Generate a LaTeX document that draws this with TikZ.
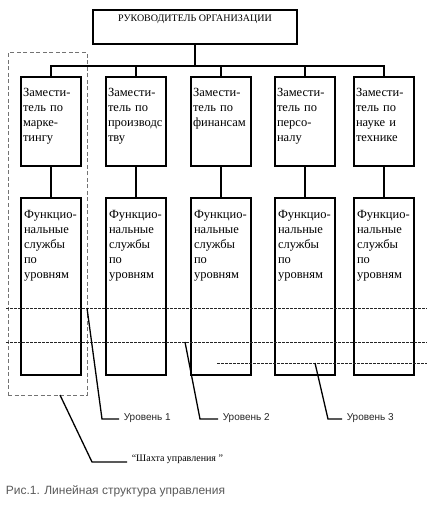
\documentclass[tikz,border=0pt]{standalone}
\usepackage{fontspec}
\setmainfont{Liberation Serif}
\newfontfamily\sansru{Liberation Sans}
\usetikzlibrary{calc}

\begin{document}
\begin{tikzpicture}[x=1pt,y=-1pt,line width=1.6pt,
  box/.style={draw,inner sep=0pt,minimum width=60pt},
  ztext/.style={anchor=base west,inner sep=0pt,text width=70pt,align=left,
    font=\fontsize{12.5}{15}\selectfont},
  dotline/.style={line width=0.8pt,black!85,dash pattern=on 3pt off 1pt},
  leader/.style={line width=1.3pt},
  lvl/.style={anchor=west,inner sep=0pt,text=black!85,font=\sansru\fontsize{10}{12}\selectfont}]
\useasboundingbox (0,0) rectangle (430,505);
% руководитель
\node[draw,inner sep=0pt,minimum width=204pt,minimum height=34pt] (boss) at (195,27) {};
\node[anchor=base,inner sep=0pt,font=\fontsize{10}{12}\selectfont] (bosst) at (195,22) {РУКОВОДИТЕЛЬ ОРГАНИЗАЦИИ};
% заместители
\node[box,minimum height=89pt] (zam1) at (51,121.5) {};
\node[box,minimum height=89pt] (zam2) at (136,121.5) {};
\node[box,minimum height=89pt] (zam3) at (221,121.5) {};
\node[box,minimum height=89pt] (zam4) at (305,121.5) {};
\node[box,minimum height=89pt] (zam5) at (384,121.5) {};
\node[ztext] (zt1) at ([xshift=2pt,yshift=-20pt]zam1.north west) {Замести-\\тель по\\марке-\\тингу};
\node[ztext] (zt2) at ([xshift=2pt,yshift=-20pt]zam2.north west) {Замести-\\тель по\\производс\\тву};
\node[ztext] (zt3) at ([xshift=2pt,yshift=-20pt]zam3.north west) {Замести-\\тель по\\финансам};
\node[ztext] (zt4) at ([xshift=2pt,yshift=-20pt]zam4.north west) {Замести-\\тель по\\персо-\\налу};
\node[ztext] (zt5) at ([xshift=2pt,yshift=-20pt]zam5.north west) {Замести-\\тель по\\науке и\\технике};
% функциональные службы
\node[box,minimum height=177pt] (fs1) at (51,286.5) {};
\node[box,minimum height=177pt] (fs2) at (136,286.5) {};
\node[box,minimum height=177pt] (fs3) at (221,286.5) {};
\node[box,minimum height=177pt] (fs4) at (305,286.5) {};
\node[box,minimum height=177pt] (fs5) at (384,286.5) {};
\node[ztext] (ft1) at ([xshift=3pt,yshift=-21pt]fs1.north west) {Функцио-\\нальные\\службы\\по\\уровням};
\node[ztext] (ft2) at ([xshift=3pt,yshift=-21pt]fs2.north west) {Функцио-\\нальные\\службы\\по\\уровням};
\node[ztext] (ft3) at ([xshift=3pt,yshift=-21pt]fs3.north west) {Функцио-\\нальные\\службы\\по\\уровням};
\node[ztext] (ft4) at ([xshift=3pt,yshift=-21pt]fs4.north west) {Функцио-\\нальные\\службы\\по\\уровням};
\node[ztext] (ft5) at ([xshift=3pt,yshift=-21pt]fs5.north west) {Функцио-\\нальные\\службы\\по\\уровням};
% связи
\coordinate (bus) at (195,66);
\draw (boss.south) -- (bus);
\draw (zam1.north) |- (bus) -| (zam5.north);
\draw (zam2.north) -- (zam2.north |- bus);
\draw (zam3.north) -- (zam3.north |- bus);
\draw (zam4.north) -- (zam4.north |- bus);
\draw (zam1) -- (fs1);
\draw (zam2) -- (fs2);
\draw (zam3) -- (fs3);
\draw (zam4) -- (fs4);
\draw (zam5) -- (fs5);
% шахта управления
\node[draw=black!55,line width=1pt,dash pattern=on 4pt off 2.5pt,inner sep=0pt,
  minimum width=79pt,minimum height=342pt] (shaft) at (47.5,224) {};
% уровни
\draw[dotline] (6,308) -- (427,308);
\draw[dotline] (6,342) -- (427,342);
\draw[dotline] (217,363) -- (427,363);
% подписи
\node[lvl] (lev1) at (123,418) {Уровень 1};
\node[lvl] (lev2) at (222,418) {Уровень 2};
\node[lvl] (lev3) at (346,418) {Уровень 3};
\node[anchor=west,inner sep=0pt,font=\fontsize{10}{12}\selectfont] (shaftl) at (131,459) {“Шахта управления ”};
\coordinate (p1) at (87,308);
\coordinate (p2) at (185,342);
\coordinate (p3) at (315,363);
\coordinate (p4) at (60,395);
\draw[leader] (p1) -- (102,419) -- ([xshift=-4pt]lev1.west |- 0,419);
\draw[leader] (p2) -- (200,419) -- ([xshift=-4pt]lev2.west |- 0,419);
\draw[leader] (p3) -- (328,419) -- ([xshift=-4pt]lev3.west |- 0,419);
\draw[leader] (p4) -- (92,462) -- ([xshift=-4pt]shaftl.west |- 0,462);
% подпись рисунка
\node[anchor=base west,inner sep=0pt,text=black!65,font=\sansru\fontsize{12}{14}\selectfont] (cap) at (5,494) {Рис.1. Линейная структура управления};
\end{tikzpicture}
\end{document}
